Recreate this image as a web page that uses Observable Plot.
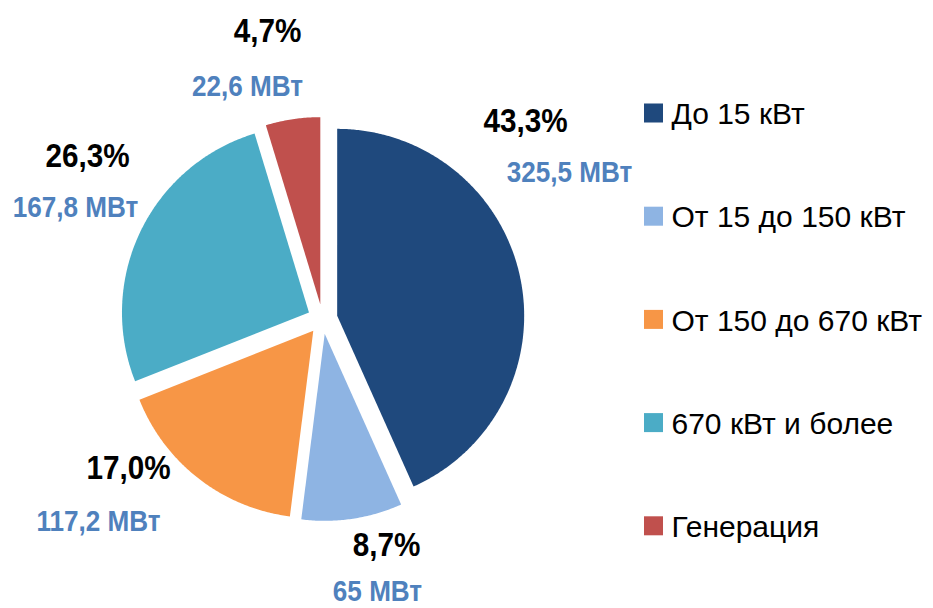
<!DOCTYPE html>
<html>
<head>
<meta charset="utf-8">
<script src="https://cdn.jsdelivr.net/npm/d3@7"></script>
<script src="https://cdn.jsdelivr.net/npm/@observablehq/plot@0.6"></script>
<style>
  html, body { margin: 0; padding: 0; background: #fff; }
  #chart svg { display: block; }
</style>
</head>
<body>
<div id="chart"></div>
<script>
// ---- data ----
const categories = ["До 15 кВт", "От 15 до 150 кВт", "От 150 до 670 кВт", "670 кВт и более", "Генерация"];
const shares = [43.3, 8.7, 17.0, 26.3, 4.7];        // %
const powerMW = [325.5, 65, 117.2, 167.8, 22.6];    // МВт
const colors = ["#1F497D", "#8EB4E3", "#F79646", "#4BACC6", "#C0504D"];

// ---- layout (not data) ----
const W = 933, H = 608;
const center = [322, 318.5];
const radius = 187;
const explode = 15;
// label anchors (visual centres) for percent and MW labels
const pctLabelPos = [[525, 120], [386, 544], [128, 467], [87, 155], [267, 30]];
const mwLabelPos  = [[569, 171], [377, 590], [98, 520], [75, 206], [247, 85]];
const legendX = 644, legendY0 = 113, legendStep = 103.2, legendBox = 19;
const labelSqueeze = 0.9;

const FONT = '"Liberation Sans", Arial, sans-serif';

// ---- derived geometry from data ----
const arcs = d3.pie().sort(null).value(d => d)(shares);
const slicePts = [];
arcs.forEach((a, i) => {
  const mid = (a.startAngle + a.endAngle) / 2;
  const ox = center[0] + explode * Math.sin(mid);
  const oy = center[1] - explode * Math.cos(mid);
  slicePts.push({cat: categories[i], x: ox, y: oy});
  const n = Math.max(2, Math.ceil((a.endAngle - a.startAngle) / (Math.PI / 360)));
  for (let k = 0; k <= n; k++) {
    const t = a.startAngle + (a.endAngle - a.startAngle) * k / n;
    slicePts.push({cat: categories[i], x: ox + radius * Math.sin(t), y: oy - radius * Math.cos(t)});
  }
});

const fmt = v => String(v).replace(".", ",");
const labels = categories.map((c, i) => ({
  cat: c,
  pct: shares[i].toFixed(1).replace(".", ",") + "%",
  mw: fmt(powerMW[i]) + " МВт",
  px: pctLabelPos[i][0], py: pctLabelPos[i][1],
  mx: mwLabelPos[i][0], my: mwLabelPos[i][1]
}));
const legend = categories.map((c, i) => ({cat: c, y: legendY0 + i * legendStep}));

const chart = Plot.plot({
  width: W, height: H,
  margin: 0,
  style: {fontFamily: FONT, background: "#fff"},
  x: {domain: [0, W], range: [0, W], axis: null},
  y: {domain: [0, H], range: [0, H], axis: null},
  color: {domain: categories, range: colors},
  marks: [
    Plot.line(slicePts, {x: "x", y: "y", z: "cat", fill: "cat", stroke: null, curve: "linear-closed"}),
    Plot.text(labels, {x: "px", y: "py", text: "pct", fill: "#000", fontSize: 33, fontWeight: "bold", textAnchor: "middle", dy: 1}),
    Plot.text(labels, {x: "mx", y: "my", text: "mw", fill: "#4F81BD", fontSize: 29, fontWeight: "bold", textAnchor: "middle", dy: 1}),
    Plot.rect(legend, {x1: legendX, x2: legendX + legendBox, y1: d => d.y - legendBox / 2, y2: d => d.y + legendBox / 2, fill: "cat"}),
    Plot.text(legend, {x: legendX + legendBox + 8, y: "y", text: "cat", fill: "#000", fontSize: 30, textAnchor: "start", dy: 1})
  ]
});

// narrow the bold slice labels horizontally (condensed face look)
const textGroups = chart.querySelectorAll('g[aria-label="text"]');
[textGroups[0], textGroups[1]].forEach(g => {
  if (!g) return;
  g.querySelectorAll("text").forEach(t => {
    const tr = t.getAttribute("transform");
    if (tr) {
      t.setAttribute("transform", tr + ` scale(${labelSqueeze},1)`);
    } else {
      const x = +t.getAttribute("x") || 0;
      t.setAttribute("transform", `translate(${x * (1 - labelSqueeze)},0) scale(${labelSqueeze},1)`);
    }
  });
});

document.getElementById("chart").appendChild(chart);
</script>
</body>
</html>
